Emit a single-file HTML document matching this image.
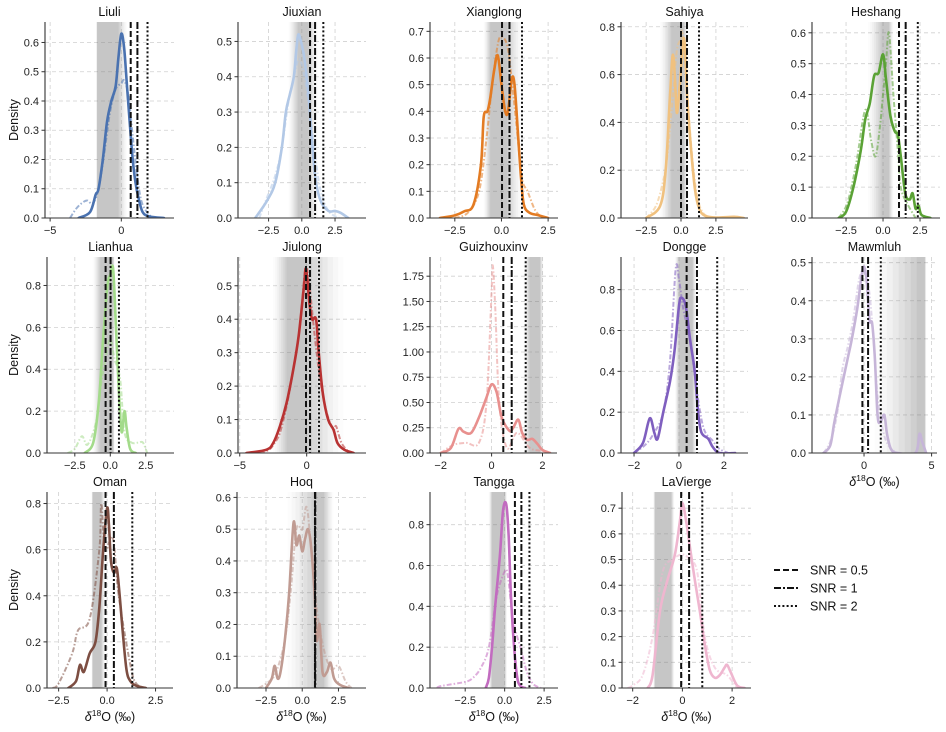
<!DOCTYPE html>
<html><head><meta charset="utf-8">
<style>
html,body{margin:0;padding:0;background:#fff;}
svg{display:block;font-family:"Liberation Sans",Arial,sans-serif;}
</style></head>
<body>
<svg id="chart" width="946" height="732" viewBox="0 0 946 732" xmlns="http://www.w3.org/2000/svg"></svg>
<script>
// ---- data ----
const panelNames = ["Liuli","Jiuxian","Xianglong","Sahiya","Heshang","Lianhua","Jiulong","Guizhouxinv","Dongge","Mawmluh","Oman","Hoq","Tangga","LaVierge"];
const panelColors = ["#4a72b0","#b2c8e6","#e37b22","#f0c17f","#5aa235","#a3db8a","#b83232","#e8908e","#7f5fbf","#c6b5d8","#7d4e42","#c09b92","#c26cc0","#efb6cf"];
const snrHalf = [0.66,0.62,0.03,0.0,1.08,-0.33,-0.05,0.46,0.34,-0.12,-0.08,0.88,0.65,-0.05];
const snrOne  = [1.13,1.0,0.43,0.43,1.53,0.02,0.25,0.79,0.8,0.3,0.35,0.9,1.06,0.27];
const snrTwo  = [1.84,1.62,1.1,1.29,2.35,0.61,0.92,1.34,1.7,1.24,1.3,0.88,1.57,0.8];
const bandLo  = [-1.75,-1.0,-0.95,-1.5,-1.0,-1.23,-2.5,1.26,-0.18,0.8,-0.8,-1.0,-1.0,-1.17];
const bandHi  = [0.4,1.2,1.1,0.5,0.7,0.3,2.75,2.04,0.78,4.6,-0.1,2.15,0.15,-0.32];
const coreLo  = [-1.7,-0.3,-0.6,-0.7,-0.1,-0.7,-1.5,1.5,0.0,3.9,-0.74,0.9,-0.8,-1.1];
const coreHi  = [-0.2,0.5,0.3,0.2,0.4,0.2,0.0,1.9,0.6,4.5,-0.3,1.5,0.0,-0.45];
const mainX = [
 [-3,-2.2,-1.8,-1.6,-1.3,-1.0,-0.7,-0.4,-0.2,0,0.2,0.4,0.6,0.8,1.0,1.2,1.5,2.0,3.0],
 [-3.5,-2.6,-2,-1.5,-1.2,-0.9,-0.6,-0.4,-0.25,0,0.2,0.5,0.7,1,1.4,2,2.5,2.9,3.5],
 [-3.3,-2.5,-2,-1.5,-1.1,-0.95,-0.75,-0.6,-0.4,-0.2,0,0.2,0.35,0.55,0.7,0.9,1.05,1.2,1.5,2,2.5],
 [-2.5,-1.5,-1.1,-0.8,-0.6,-0.45,-0.3,-0.1,0.1,0.25,0.45,0.7,1.0,1.3,1.7,2.5,3.8,4.5],
 [-3,-2.5,-2,-1.5,-1.2,-0.9,-0.6,-0.3,0,0.2,0.5,0.8,1.0,1.2,1.5,1.8,2.0,2.2,2.4,2.6,3.2],
 [-1.8,-1.2,-0.8,-0.5,-0.2,0,0.2,0.4,0.6,0.8,1.0,1.15,1.4,1.8],
 [-4.5,-3,-2.5,-2,-1.5,-1,-0.6,-0.2,-0.05,0.2,0.4,0.7,0.9,1.2,1.6,2,2.3,2.8,3.5],
 [-2,-1.6,-1.3,-1.1,-0.8,-0.5,-0.2,0,0.2,0.4,0.7,0.85,1.05,1.2,1.4,1.6,1.8,2.0,2.3],
 [-2,-1.6,-1.3,-1.1,-0.95,-0.7,-0.4,-0.2,0,0.1,0.3,0.5,0.7,0.85,1.0,1.3,1.5,1.8,2.5],
 [-3,-2.5,-2.2,-1.8,-1.5,-1.2,-0.9,-0.5,-0.2,0,0.2,0.4,0.6,0.8,1.0,1.2,1.5,1.7,2.0,2.5,3.8,4.1,4.3,4.6],
 [-2,-1.6,-1.4,-1.2,-0.9,-0.6,-0.4,-0.2,0,0.1,0.2,0.35,0.5,0.65,0.8,1.0,1.2,1.5,2],
 [-2.5,-2.1,-1.9,-1.7,-1.5,-1.2,-0.9,-0.6,-0.4,-0.2,0,0.2,0.4,0.6,0.85,1.0,1.2,1.4,1.7,1.95,2.2,2.6,3.2],
 [-1.2,-1,-0.8,-0.6,-0.3,-0.1,0.1,0.25,0.4,0.6,0.8,1.0,1.3],
 [-1.4,-1.2,-0.9,-0.6,-0.3,-0.1,0,0.15,0.3,0.5,0.7,0.9,1.1,1.3,1.5,1.7,1.8,1.95,2.2,2.5]
];
const mainY = [
 [0,0.02,0.08,0.1,0.2,0.33,0.4,0.45,0.55,0.63,0.58,0.45,0.32,0.2,0.12,0.07,0.02,0.005,0],
 [0,0.05,0.1,0.2,0.3,0.35,0.4,0.48,0.52,0.49,0.45,0.35,0.25,0.12,0.05,0.02,0.02,0.015,0],
 [0,0.01,0.025,0.05,0.2,0.38,0.4,0.45,0.55,0.61,0.5,0.4,0.4,0.52,0.5,0.3,0.15,0.05,0.02,0.01,0],
 [0,0.05,0.2,0.5,0.68,0.6,0.44,0.55,0.7,0.74,0.5,0.3,0.12,0.04,0.01,0.002,0.005,0],
 [0,0.02,0.1,0.22,0.32,0.37,0.46,0.47,0.53,0.45,0.33,0.28,0.27,0.2,0.08,0.06,0.08,0.03,0.04,0.01,0],
 [0,0.05,0.25,0.55,0.8,0.85,0.88,0.6,0.3,0.1,0.2,0.12,0.02,0],
 [0,0.01,0.03,0.08,0.15,0.25,0.35,0.5,0.55,0.45,0.4,0.4,0.3,0.18,0.1,0.07,0.03,0.01,0],
 [0,0.05,0.24,0.21,0.2,0.35,0.55,0.68,0.6,0.35,0.22,0.25,0.33,0.2,0.13,0.14,0.09,0.03,0],
 [0,0.05,0.17,0.1,0.07,0.2,0.35,0.5,0.72,0.76,0.72,0.55,0.4,0.2,0.1,0.07,0.03,0,0],
 [0,0.02,0.08,0.15,0.2,0.25,0.3,0.38,0.46,0.49,0.45,0.35,0.34,0.25,0.1,0.08,0.1,0.05,0.01,0,0,0.05,0.03,0],
 [0,0.03,0.1,0.07,0.15,0.2,0.35,0.6,0.78,0.7,0.55,0.5,0.52,0.4,0.25,0.08,0.03,0.01,0],
 [0,0.03,0.07,0.03,0.05,0.15,0.3,0.52,0.45,0.48,0.43,0.47,0.5,0.45,0.3,0.15,0.2,0.05,0.05,0.08,0.03,0.01,0],
 [0,0.05,0.2,0.4,0.65,0.87,0.9,0.75,0.45,0.2,0.05,0.01,0],
 [0,0.05,0.3,0.42,0.52,0.65,0.72,0.65,0.55,0.42,0.3,0.17,0.07,0.04,0.05,0.08,0.09,0.06,0.01,0]
];
const altX = [
 [-3.6,-3.2,-2.8,-2.4,-2,-1.6,-1.2,-0.8,-0.4,0,0.2,0.5,0.8,1.1,1.4,1.8,2.2],
 [-3.2,-2.6,-2,-1.5,-1,-0.6,-0.2,0.2,0.6,1,1.4,2,2.8],
 [-2.5,-1.8,-1.2,-0.8,-0.5,-0.2,0,0.3,0.5,0.8,1.1,1.4,1.8,2.2],
 [-2.5,-1.8,-1.3,-1,-0.6,-0.3,0,0.1,0.3,0.6,0.9,1.2,1.6,2.2],
 [-3,-2.4,-1.8,-1.2,-0.8,-0.5,-0.2,0,0.2,0.4,0.7,1.0,1.2,1.6,2.2],
 [-3,-2.5,-2,-1.6,-1.0,-0.6,-0.2,0,0.3,0.7,1.0,1.5,2.0,2.3,2.6],
 [-3.5,-2.8,-2.4,-2,-1.5,-1,-0.5,-0.1,0.2,0.6,1.0,1.5,2.0,2.2,2.6,3.2],
 [-2,-1.5,-1,-0.5,-0.2,0,0.05,0.15,0.3,0.6,1.0,1.5,2,2.3],
 [-2,-1.5,-1.1,-0.7,-0.4,-0.15,0,0.2,0.5,0.8,1.1,1.5,1.8,2.2],
 [-3,-2.5,-2,-1.6,-1.2,-0.8,-0.4,-0.1,0.1,0.4,0.7,1,1.4,1.8,2.4],
 [-2.8,-2.5,-1.8,-1.5,-0.9,-0.4,-0.3,-0.1,0.3,0.6,1.2,1.5,2],
 [-3,-2.3,-1.8,-1.2,-0.8,-0.4,0,0.3,0.6,1.0,1.5,2.0,2.5,3.0,3.4],
 [-4.3,-4,-2.5,-2,-1.5,-1,-0.5,0,0.2,0.5,0.8,1.0,1.4,1.8,2.3],
 [-2.2,-2,-1.6,-1.2,-0.8,-0.4,0,0.3,0.6,0.9,1.3,1.8,2.2]
];
const altY = [
 [0,0.03,0.05,0.06,0.05,0.1,0.22,0.36,0.44,0.46,0.47,0.42,0.28,0.15,0.06,0.02,0],
 [0,0.06,0.12,0.2,0.33,0.4,0.45,0.4,0.3,0.18,0.08,0.02,0],
 [0,0.02,0.1,0.3,0.5,0.65,0.68,0.65,0.55,0.35,0.15,0.1,0.03,0],
 [0,0.05,0.15,0.25,0.5,0.7,0.75,0.78,0.65,0.4,0.2,0.08,0.02,0],
 [0,0.05,0.18,0.35,0.25,0.2,0.3,0.4,0.5,0.6,0.4,0.22,0.1,0.05,0],
 [0,0.02,0.08,0.04,0.15,0.35,0.5,0.55,0.45,0.35,0.1,0.05,0.05,0.05,0],
 [0,0.01,0.03,0.06,0.14,0.25,0.38,0.55,0.5,0.35,0.22,0.12,0.07,0.08,0.03,0],
 [0,0.08,0.1,0.1,0.5,1.6,1.85,1.4,0.5,0.05,0.2,0.05,0.02,0],
 [0,0.04,0.1,0.2,0.45,0.9,0.85,0.7,0.55,0.3,0.12,0.06,0.02,0],
 [0,0.03,0.1,0.22,0.28,0.35,0.45,0.48,0.47,0.42,0.3,0.15,0.06,0.02,0],
 [0,0.02,0.15,0.25,0.3,0.6,0.8,0.6,0.65,0.4,0.1,0.02,0],
 [0,0.02,0.05,0.15,0.3,0.5,0.5,0.57,0.45,0.25,0.12,0.06,0.07,0.02,0],
 [0,0.01,0.03,0.05,0.1,0.2,0.45,0.57,0.55,0.35,0.25,0.2,0.08,0.02,0],
 [0,0.01,0.05,0.2,0.45,0.5,0.52,0.5,0.45,0.2,0.08,0.05,0]
];
const xTickVals = [[-5,0],[-2.5,0,2.5],[-2.5,0,2.5],[-2.5,0,2.5],[-2.5,0,2.5],[-2.5,0,2.5],[-5,0],[-2,0,2],[-2,0,2],[0,5],[-2.5,0,2.5],[-2.5,0,2.5],[-2.5,0,2.5],[-2,0,2]];
const yTickStep = [0.1,0.1,0.1,0.2,0.1,0.2,0.1,0.25,0.2,0.1,0.2,0.1,0.2,0.1];
const yTickTop  = [0.6,0.5,0.7,0.8,0.6,0.8,0.5,1.75,0.8,0.5,0.8,0.6,0.8,0.7];
const legendLabels = ["SNR = 0.5","SNR = 1","SNR = 2"];

// ---- layout (axis config) ----
const axLeft  = [45,238,430,621,812, 47,238,430,621,812, 47,237,430,622];
const axRight = [174,366,558,748,940, 174,366,557,748,937, 173,366,558,751];
const axRow   = [0,0,0,0,0, 1,1,1,1,1, 2,2,2,2];
const rowTop = [22,257,492], rowBottom=[218,453,688];
const xMin = [-5.36,-4.8,-3.83,-4.3,-4.8,-4.46,-5.13,-2.42,-2.58,-3.85,-3.1,-4.5,-4.73,-2.43];
const xMax = [3.7,4.83,3.03,4.8,3.85,4.49,4.43,2.57,3.07,5.4,3.4,4.4,3.38,2.76];
const yMax = [0.67,0.555,0.735,0.82,0.635,0.936,0.586,1.94,0.96,0.515,0.85,0.617,0.96,0.763];
const xLabelPanels = [9,10,11,12,13];
const yLabelPanels = [0,5,10];

const NS="http://www.w3.org/2000/svg";
const svg=document.getElementById('chart');
function mk(tag,attrs,parent){const e=document.createElementNS(NS,tag);for(const k in attrs)e.setAttribute(k,attrs[k]);(parent||svg).appendChild(e);return e;}
function smooth(pts){
  if(pts.length<2)return '';
  let d='M'+pts[0][0].toFixed(2)+','+pts[0][1].toFixed(2);
  for(let i=0;i<pts.length-1;i++){
    const p0=pts[i-1]||pts[i],p1=pts[i],p2=pts[i+1],p3=pts[i+2]||p2;
    const c1=[p1[0]+(p2[0]-p0[0])/6,p1[1]+(p2[1]-p0[1])/6];
    const c2=[p2[0]-(p3[0]-p1[0])/6,p2[1]-(p3[1]-p1[1])/6];
    d+='C'+c1[0].toFixed(2)+','+c1[1].toFixed(2)+' '+c2[0].toFixed(2)+','+c2[1].toFixed(2)+' '+p2[0].toFixed(2)+','+p2[1].toFixed(2);
  }
  return d;
}
function fmt(v,step){const dec=step===0.25?2:(Number.isInteger(step)?0:1);return v.toFixed(dec).replace('-','\u2212');}
function fmtX(v,ticks){const dec=ticks.some(t=>!Number.isInteger(t))?1:0;return v.toFixed(dec).replace('-','\u2212');}

panelNames.forEach((name,i)=>{
  const L=axLeft[i],R=axRight[i],T=rowTop[axRow[i]],B=rowBottom[axRow[i]];
  const sx=v=>L+(v-xMin[i])/(xMax[i]-xMin[i])*(R-L);
  const sy=v=>B-v/yMax[i]*(B-T);
  const g=mk('g',{});
  
  
  const clipId='clip'+i;
  const cp=mk('clipPath',{id:clipId},g);mk('rect',{x:L,y:T,width:R-L,height:B-T},cp);
  const yt=[];for(let v=0;v<=yTickTop[i]+1e-9;v+=yTickStep[i])yt.push(+v.toFixed(4));
  yt.forEach(v=>{const gl=mk('line',{x1:L,x2:R,y1:sy(v),y2:sy(v),stroke:'#d0d0d0','stroke-width':0.8,'stroke-dasharray':'4,3'},g);
    });
  xTickVals[i].forEach(v=>{const gl=mk('line',{x1:sx(v),x2:sx(v),y1:T,y2:B,stroke:'#d0d0d0','stroke-width':0.8,'stroke-dasharray':'4,3'},g);
    });
  const bg=mk('g',{'clip-path':'url(#'+clipId+')'},g);
  
  const N=8;
  for(let k=0;k<N;k++){const f=k/(N-1);
    const lo=bandLo[i]+(coreLo[i]-bandLo[i])*f, hi=bandHi[i]+(coreHi[i]-bandHi[i])*f;
    mk('rect',{x:sx(Math.min(lo,hi)),y:T,width:Math.abs(sx(hi)-sx(lo)),height:B-T,fill:'#8a8a8a','fill-opacity':(0.025+0.1*f).toFixed(3)},bg);}
  const cg=mk('g',{'clip-path':'url(#'+clipId+')'},g);
  const ap=mk('path',{d:smooth(altX[i].map((x,j)=>[sx(x),sy(altY[i][j])])),fill:'none',stroke:panelColors[i],'stroke-width':2,'stroke-opacity':0.55,'stroke-dasharray':'5,2,1.5,2','stroke-linejoin':'round'},cg);
  
  const mp=mk('path',{d:smooth(mainX[i].map((x,j)=>[sx(x),sy(mainY[i][j])])),fill:'none',stroke:panelColors[i],'stroke-width':2.6,'stroke-linejoin':'round','stroke-linecap':'round'},cg);
  
  [[snrHalf[i],'6,3','snr-0.5-line'],[snrOne[i],'7,2,2,2','snr-1-line'],[snrTwo[i],'2,2.2','snr-2-line']].forEach(([v,da,nm])=>{
    const ln=mk('line',{x1:sx(v),x2:sx(v),y1:T,y2:B,stroke:'#111','stroke-width':2,'stroke-dasharray':da},g);
    });
  const ys=mk('line',{x1:L,x2:L,y1:T,y2:B+0.5,stroke:'#333','stroke-width':1.1},g);
  
  const xs=mk('line',{x1:L,x2:R,y1:B,y2:B,stroke:'#333','stroke-width':1.1},g);
  
  yt.forEach(v=>{mk('line',{x1:L-3.5,x2:L,y1:sy(v),y2:sy(v),stroke:'#333','stroke-width':1},g);
    const t=mk('text',{x:L-6,y:sy(v)+4,'text-anchor':'end','font-size':11,fill:'#222'},g);t.textContent=fmt(v,yTickStep[i]);
    });
  xTickVals[i].forEach(v=>{mk('line',{x1:sx(v),x2:sx(v),y1:B,y2:B+3.5,stroke:'#333','stroke-width':1},g);
    const t=mk('text',{x:sx(v),y:B+16,'text-anchor':'middle','font-size':11,fill:'#222'},g);t.textContent=fmtX(v,xTickVals[i]);
    });
  const tt=mk('text',{x:(L+R)/2,y:T-6,'text-anchor':'middle','font-size':12.5,fill:'#111'},g);tt.textContent=name;
  
  if(xLabelPanels.includes(i)){
    const xl=mk('text',{x:(L+R)/2,y:B+33,'text-anchor':'middle','font-size':12.5,fill:'#111'},g);
    xl.innerHTML='<tspan font-style="italic">δ</tspan><tspan font-size="8.5" dy="-5">18</tspan><tspan dy="5">O (‰)</tspan>';
    }
  if(yLabelPanels.includes(i)){
    const cy=(T+B)/2;
    const yl=mk('text',{x:18,y:cy,'text-anchor':'middle','font-size':12.5,fill:'#111',transform:'rotate(-90 18 '+cy+')'},g);yl.textContent='Density';
    }
});
const lg=mk('g',{});


const lgDash=['6,3','7,2,2,2','2,2.2'];
legendLabels.forEach((lab,k)=>{
  const y=570+k*18;
  const ln=mk('line',{x1:774,x2:798,y1:y,y2:y,stroke:'#111','stroke-width':2,'stroke-dasharray':lgDash[k]},lg);
  
  const t=mk('text',{x:810,y:y+4.5,'font-size':12.5,fill:'#111'},lg);t.textContent=lab;
  
});
</script>
</body></html>
